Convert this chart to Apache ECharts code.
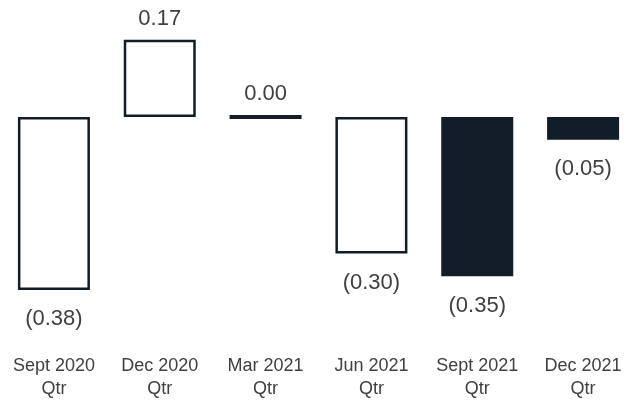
<!DOCTYPE html>
<html>
<head>
<meta charset="utf-8">
<script src="https://cdn.jsdelivr.net/npm/echarts@6/dist/echarts.min.js"></script>
<style>
  html, body { margin: 0; padding: 0; background: #fff; }
  #main { width: 636px; height: 401px; }
</style>
</head>
<body>
<div id="main"></div>
<script>
var categories = ['Sept 2020\nQtr', 'Dec 2020\nQtr', 'Mar 2021\nQtr', 'Jun 2021\nQtr', 'Sept 2021\nQtr', 'Dec 2021\nQtr'];
var values = [-0.38, 0.17, 0.00, -0.30, -0.35, -0.05];
// quarters drawn as solid bars
var highlighted = ['Sept 2021\nQtr', 'Dec 2021\nQtr'];

var DARK = '#121d29';
var TEXT = '#404040';

var chart = echarts.init(document.getElementById('main'));

var fmt = function (v) {
    return v < 0 ? '(' + Math.abs(v).toFixed(2) + ')' : v.toFixed(2);
};

var barData = [];
for (var i = 0; i < values.length; i++) {
    var solid = highlighted.indexOf(categories[i]) >= 0;
    var neg = values[i] < 0;
    barData.push({
        value: values[i],
        itemStyle: solid ? {color: DARK, borderWidth: 0} : {
            color: '#fff',
            borderColor: DARK,
            borderWidth: values[i] === 0 ? 4 : 2.5
        },
        label: {
            position: neg ? 'bottom' : 'top',
            distance: neg ? 18.5 : 10
        }
    });
}

var option = {
    animation: false,
    grid: {left: 1, right: 0, top: 26, height: 274},
    xAxis: {
        type: 'category',
        data: categories,
        axisLine: {show: false},
        axisTick: {show: false},
        axisLabel: {
            margin: 56,
            fontFamily: 'Liberation Sans, Arial, sans-serif',
            fontSize: 18,
            lineHeight: 23,
            color: TEXT,
            interval: 0
        }
    },
    yAxis: {
        type: 'value',
        show: false,
        min: -0.4,
        max: 0.2,
        splitLine: {show: false}
    },
    series: [{
        type: 'bar',
        barWidth: 72,
        data: barData,
        label: {
            show: true,
            fontFamily: 'Liberation Sans, Arial, sans-serif',
            fontSize: 22,
            color: TEXT,
            formatter: function (p) { return fmt(p.value); }
        }
    }]
};
chart.setOption(option);
</script>
</body>
</html>
